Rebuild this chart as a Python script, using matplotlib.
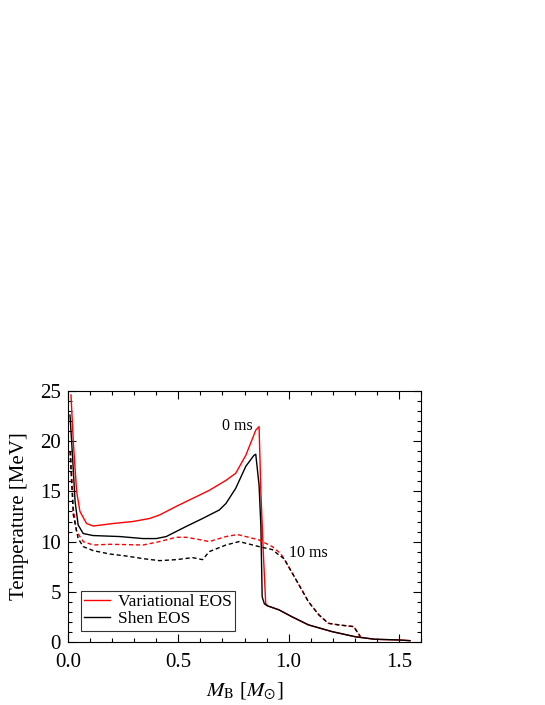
import matplotlib
matplotlib.use("Agg")
import matplotlib.pyplot as plt
from matplotlib.ticker import MultipleLocator, FormatStrFormatter

plt.rcParams['font.family'] = ['Liberation Serif', 'DejaVu Serif']
plt.rcParams['mathtext.fontset'] = 'stix'

# Variational EOS, 0 ms
var0_x = [0.0135, 0.024, 0.039, 0.054, 0.084, 0.114, 0.204, 0.294, 0.37, 0.415, 0.49, 0.565,
          0.64, 0.716, 0.76, 0.806, 0.851, 0.866, 0.874, 0.885, 0.896, 0.904, 0.956, 1.016,
          1.09, 1.197, 1.30, 1.39, 1.5, 1.55]
var0_y = [24.6, 19.95, 15.0, 13.0, 11.8, 11.55, 11.8, 12.0, 12.3, 12.65, 13.5, 14.3,
          15.1, 16.1, 16.8, 18.6, 21.1, 21.45, 15.0, 9.0, 3.85, 3.6, 3.2, 2.5,
          1.7, 1.03, 0.53, 0.27, 0.2, 0.13]

# Shen EOS, 0 ms
shen0_x = [0.009, 0.021, 0.032, 0.046, 0.069, 0.114, 0.235, 0.34, 0.40, 0.445, 0.535, 0.61,
           0.686, 0.716, 0.76, 0.806, 0.843, 0.851, 0.866, 0.874, 0.88, 0.89, 0.904, 0.956,
           1.016, 1.09, 1.197, 1.30, 1.39, 1.5, 1.55]
shen0_y = [22.6, 18.3, 14.0, 11.65, 10.8, 10.6, 10.5, 10.3, 10.3, 10.5, 11.5, 12.3,
           13.15, 13.8, 15.3, 17.5, 18.6, 18.7, 15.6, 11.65, 4.5, 3.8, 3.6, 3.2,
           2.5, 1.7, 1.03, 0.53, 0.27, 0.2, 0.13]

# Variational EOS, 10 ms
var10_x = [0.012, 0.024, 0.039, 0.069, 0.114, 0.19, 0.34, 0.415, 0.49, 0.535, 0.595, 0.64,
           0.716, 0.768, 0.806, 0.866, 0.926, 0.964, 0.979, 1.031, 1.09, 1.137, 1.18,
           1.227, 1.295, 1.31, 1.325]
var10_y = [19.0, 13.3, 11.0, 10.0, 9.66, 9.73, 9.66, 10.0, 10.43, 10.43, 10.2, 10.0,
           10.5, 10.7, 10.5, 10.16, 9.5, 8.8, 8.3, 6.3, 4.0, 2.7, 1.86,
           1.7, 1.53, 1.03, 0.53]

# Shen EOS, 10 ms
shen10_x = [0.009, 0.024, 0.046, 0.069, 0.114, 0.19, 0.265, 0.34, 0.415, 0.49, 0.565, 0.61,
            0.64, 0.716, 0.776, 0.866, 0.926, 0.956, 0.979, 1.031, 1.09, 1.137, 1.18,
            1.227, 1.295, 1.31, 1.325]
shen10_y = [19.0, 12.65, 10.3, 9.5, 9.1, 8.76, 8.56, 8.3, 8.1, 8.2, 8.4, 8.2,
            9.0, 9.66, 10.0, 9.5, 9.2, 8.66, 8.3, 6.3, 4.0, 2.7, 1.86,
            1.7, 1.53, 1.03, 0.53]

fig = plt.figure(figsize=(5.45, 7.05), dpi=100)
ax = fig.add_axes([0.1248, 0.0894, 0.6477, 0.356])

lw = 1.0
ax.plot(var0_x, var0_y, color='red', lw=lw, label='Variational EOS')
ax.plot(shen0_x, shen0_y, color='black', lw=lw, label='Shen EOS')
ax.plot(var10_x, var10_y, color='red', lw=lw, ls=(0, (3, 2)))
ax.plot(shen10_x, shen10_y, color='black', lw=lw, ls=(0, (3, 2)))

ax.set_xlim(0, 1.6)
ax.set_ylim(0, 25)
ax.xaxis.set_major_locator(MultipleLocator(0.5))
ax.xaxis.set_minor_locator(MultipleLocator(0.1))
ax.yaxis.set_major_locator(MultipleLocator(5))
ax.yaxis.set_minor_locator(MultipleLocator(1))
ax.xaxis.set_major_formatter(FormatStrFormatter('%.1f'))
ax.tick_params(which='both', direction='in', top=True, right=True, labelsize=15)
ax.tick_params(which='major', length=6, width=0.8)
ax.tick_params(which='minor', length=3, width=0.8)
ax.tick_params(axis='x', which='major', pad=8)
ax.tick_params(axis='y', which='major', pad=5)

ax.set_xlabel(r'$M_{\mathrm{B}}$ [$M_{\odot}$]', fontsize=15, labelpad=6)
ax.set_ylabel('Temperature [MeV]', fontsize=15, labelpad=8)

ax.text(0.767, 21.5, '0 ms', ha='center', va='center', fontsize=11.5)
ax.text(1.09, 8.9, '10 ms', ha='center', va='center', fontsize=11.5)

leg = ax.legend(loc='lower left', fontsize=12.5, frameon=True, fancybox=False,
                edgecolor='black', handlelength=1.5, handletextpad=0.45, borderpad=0.2,
                labelspacing=0.05, borderaxespad=0, bbox_to_anchor=(0.036, 0.045))
leg.get_frame().set_linewidth(0.8)

fig.savefig('out.png', dpi=100)
